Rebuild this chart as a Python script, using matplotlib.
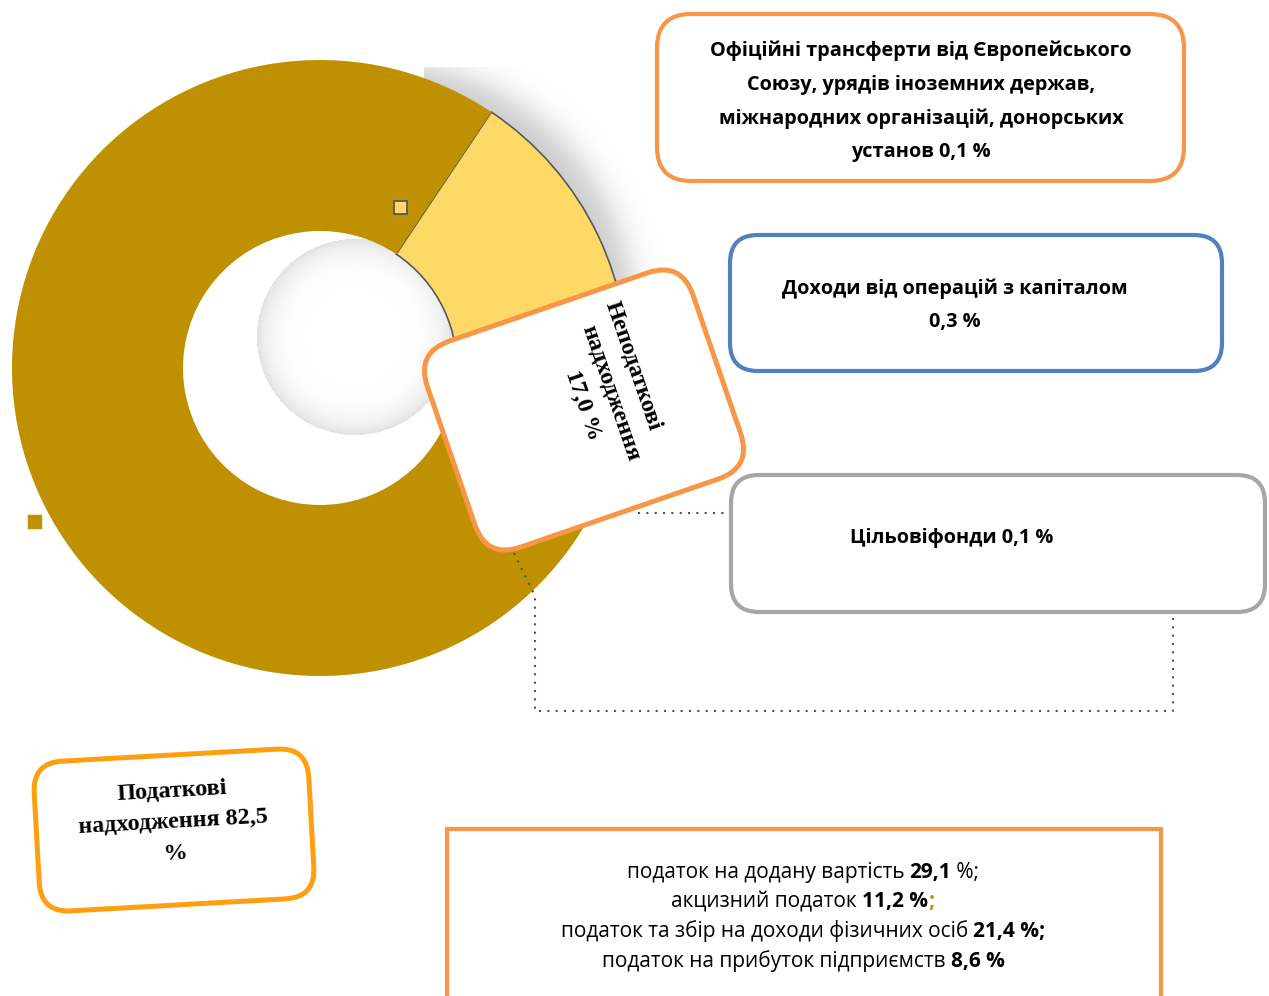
import numpy as np
import matplotlib
matplotlib.use("Agg")
import matplotlib.pyplot as plt
from matplotlib.patches import FancyBboxPatch, Rectangle
from matplotlib.transforms import Affine2D
from matplotlib.font_manager import FontProperties

# ---------------------------------------------------------------- data
# Structure of budget revenues, %
slice_names = [
    "Неподаткові\nнадходження",
    "Доходи від операцій з капіталом",
    "Офіційні трансферти від Європейського\nСоюзу, урядів іноземних держав,\n"
    "міжнародних організацій, донорських\nустанов",
    "Цільовіфонди",
    "Податкові\nнадходження",
]
slice_shares = [17.0, 0.3, 0.1, 0.1, 82.5]
slice_colors = ["#FFD966", "#4F81BD", "#F79646", "#A5A5A5", "#BF9000"]

# Main taxes within tax revenues, %
tax_names = [
    "податок на додану вартість",
    "акцизний податок",
    "податок та збір на доходи фізичних осіб",
    "податок на прибуток підприємств",
]
tax_shares = [29.1, 11.2, 21.4, 8.6]


def pct(v):
    return f"{v:.1f}".replace(".", ",") + " %"


# ---------------------------------------------------------------- canvas
W_PX, H_PX = 1269, 996
fig = plt.figure(figsize=(W_PX / 100, H_PX / 100), dpi=100)
fig.patch.set_facecolor("white")
ax = fig.add_axes([0, 0, 1, 1])


def P(x, y):
    """Top-left based pixel position -> axes coordinates."""
    return x, H_PX - y


SANS = "Open Sans"
SERIF = "Liberation Serif"

# ---------------------------------------------------------------- soft shadow behind the ring
CX, CY = 320, 368
R_OUT, R_IN = 308, 137

gx = np.arange(0, 720) + 0.5
gy = np.arange(0, 720) + 0.5
X, Y = np.meshgrid(gx, gy)
d_ring = np.hypot(X - CX, Y - CY)
d_sh = np.hypot(X - 376, Y - 320)
halo = 0.21 / (1 + np.exp(-(258 - d_sh) / 9.0))
halo[d_ring < R_IN + 3] = 0
halo[Y < 67] = 0
halo[(X < 424) & (Y < 110)] = 0
d_hole = np.hypot(X - 355, Y - 337)
glow = np.where(d_hole < 98, 0.12 * np.exp(-(98 - d_hole) / 14.0), 0.0)
alpha = np.maximum(halo, glow)
shadow = np.zeros(alpha.shape + (4,))
shadow[..., 3] = alpha
ax.imshow(shadow, extent=(0, 720, H_PX - 720, H_PX), origin="upper",
          interpolation="bilinear", zorder=0)

# ---------------------------------------------------------------- doughnut
wedges, _ = ax.pie(
    slice_shares, colors=slice_colors, startangle=56.2, counterclock=False,
    radius=R_OUT, center=P(CX, CY),
    wedgeprops=dict(width=R_OUT - R_IN, linewidth=0),
)
for w in wedges:
    w.set_zorder(1)
wedges[0].set_edgecolor("#595959")
wedges[0].set_linewidth(1.2)

# small series markers
mk1 = Rectangle(P(394, 214), 13, 13, fc=slice_colors[0], ec="#595959", lw=1.3, zorder=2)
mk2 = Rectangle(P(27, 529), 15, 15, fc=slice_colors[4], ec="#F2E3B6", lw=0.8, zorder=2)
ax.add_patch(mk1)
ax.add_patch(mk2)

# ---------------------------------------------------------------- leader lines
dot = dict(color="#44546A", lw=1.5, ls=(0, (1, 3)), zorder=3)
lx = [514, 533, 535, 535, 1173, 1173]
ly = [553, 592, 598, 711, 711, 617]
ax.plot(*zip(*[P(a, b) for a, b in zip(lx, ly)]), **dot)
ax.plot(*zip(P(638, 513), P(729, 513)), **dot)


# ---------------------------------------------------------------- label boxes
def round_box(x0, y0, x1, y1, color, lw, rc):
    patch = FancyBboxPatch(P(x0, y1), x1 - x0, y1 - y0,
                           boxstyle=f"round,pad=0,rounding_size={rc}",
                           fc="white", ec=color, lw=lw, zorder=4)
    ax.add_patch(patch)


def turned_box(cx, cy, w, h, angle, color, lw, rc):
    X0, Y0 = P(cx, cy)
    tr = Affine2D().rotate_deg(angle).translate(X0, Y0) + ax.transData
    patch = FancyBboxPatch((-w / 2, -h / 2), w, h,
                           boxstyle=f"round,pad=0,rounding_size={rc}",
                           fc="white", ec=color, lw=lw, transform=tr, zorder=5)
    ax.add_patch(patch)


def local_to_px(cx, cy, angle, lx_, ly_):
    a = np.deg2rad(angle)
    dx = lx_ * np.cos(a) - ly_ * np.sin(a)
    dy = lx_ * np.sin(a) + ly_ * np.cos(a)
    X0, Y0 = P(cx, cy)
    return X0 + dx, Y0 + dy


BOX_FS = 14.3
BOX_LS = 1.88

# transfers from EU etc.
round_box(657, 14, 1184, 181, "#F79646", 3.0, 34)
ax.text(*P(921, 101.5), slice_names[2] + " " + pct(slice_shares[2]),
        ha="center", va="center", ma="center", family=SANS, weight="bold",
        fontsize=BOX_FS, linespacing=BOX_LS, zorder=6)

# capital operations
round_box(730, 235, 1222, 371, "#4F81BD", 3.0, 28)
ax.text(*P(955, 305), slice_names[1] + "\n" + pct(slice_shares[1]),
        ha="center", va="center", ma="center", family=SANS, weight="bold",
        fontsize=BOX_FS, linespacing=BOX_LS, zorder=6)

# target funds
round_box(731, 475, 1265, 612, "#A6A6A6", 3.0, 28)
ax.text(*P(952, 538), slice_names[3] + " " + pct(slice_shares[3]),
        ha="center", va="center", family=SANS, weight="bold",
        fontsize=BOX_FS, zorder=6)

# non-tax revenues (turned label, one text line at a time)
NT_C, NT_ANG = (584, 410), -71
turned_box(*NT_C, 218, 281, NT_ANG, "#F79646", 3.6, 36)
nt_lines = slice_names[0].split("\n") + [pct(slice_shares[0])]
nt_along = [-26, -7, -5]
nt_across = [60, 30, 0]
for s, a_, c_ in zip(nt_lines, nt_along, nt_across):
    ax.text(*local_to_px(*NT_C, NT_ANG, a_, c_), s,
            rotation=NT_ANG, rotation_mode="anchor", ha="center", va="center",
            family=SERIF, weight="bold", fontsize=17.5, zorder=7)

# tax revenues
TX_C, TX_ANG = (174, 830), 3.2
turned_box(*TX_C, 275, 150, TX_ANG, "#FF9E0F", 3.6, 30)
ax.text(*local_to_px(*TX_C, TX_ANG, 0, 7.5),
        slice_names[4] + " " + pct(slice_shares[4]).replace(" %", "\n%"),
        rotation=TX_ANG, rotation_mode="anchor", ha="center", va="center",
        ma="center", family=SERIF, weight="bold", fontsize=17.4,
        linespacing=1.66, zorder=7)

# main taxes
ax.add_patch(Rectangle(P(447, 1020), 714, 1020 - 829, fc="white",
                       ec="#F79646", lw=3.0, zorder=4))

renderer = fig.canvas.get_renderer()
fp_reg = FontProperties(family=SANS, weight="normal", size=15.0)
fp_bold = FontProperties(family=SANS, weight="bold", size=15.0)


def seg_width(s, fp):
    w, _, _ = renderer.get_text_width_height_descent(s, fp, ismath=False)
    return w


def mixed_line(xc, y, segs):
    total = sum(seg_width(s, fp) for s, fp, _ in segs)
    x = xc - total / 2
    for s, fp, c in segs:
        ax.text(*P(x, y), s, ha="left", va="baseline", fontproperties=fp,
                color=c, zorder=6)
        x += seg_width(s, fp)


num0 = pct(tax_shares[0])
lines = [
    [(tax_names[0] + " ", fp_reg, "black"), (num0[:-2], fp_bold, "black"),
     (" %;", fp_reg, "black")],
    [(tax_names[1] + " ", fp_reg, "black"), (pct(tax_shares[1]), fp_bold, "black"),
     (";", fp_bold, "#BF9000")],
    [(tax_names[2] + " ", fp_reg, "black"), (pct(tax_shares[2]) + ";", fp_bold, "black")],
    [(tax_names[3] + " ", fp_reg, "black"), (pct(tax_shares[3]), fp_bold, "black")],
]
for i, segs in enumerate(lines):
    mixed_line(803, 878 + 29.5 * i, segs)

ax.set_xlim(0, W_PX)
ax.set_ylim(0, H_PX)
ax.set_aspect("equal")
ax.axis("off")

fig.savefig("out.png", dpi=100, facecolor="white")
